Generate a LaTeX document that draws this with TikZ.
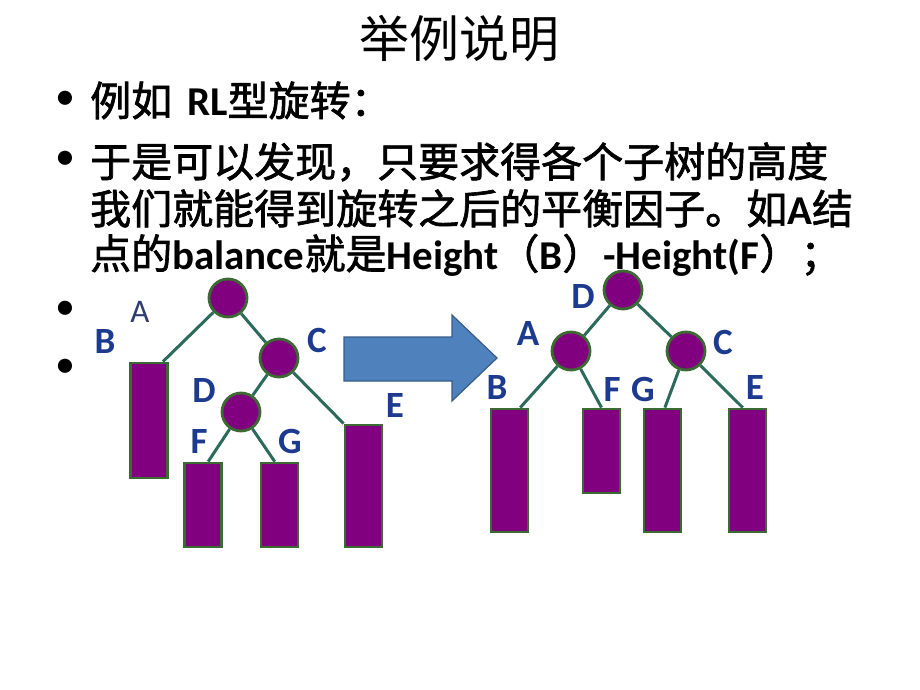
\documentclass[tikz,border=0pt]{standalone}
\usepackage{fontspec}
\setmainfont{Carlito}
\newfontfamily\cjk{Noto Sans CJK SC}
\newfontfamily\cjkb{Noto Sans CJK SC}[FakeBold=1.6]
\usetikzlibrary{calc}
\definecolor{lblblue}{HTML}{1C3A8E}
\definecolor{lblA}{HTML}{2E3D6E}
\definecolor{treepurple}{HTML}{800080}
\definecolor{treeborder}{HTML}{3B6B33}
\definecolor{edgecol}{HTML}{2C6B5C}
\definecolor{arrowfill}{HTML}{4F81BD}
\definecolor{arrowline}{HTML}{385D8A}
\begin{document}
\begin{tikzpicture}[x=1pt,y=-1pt,
  circnode/.style={circle,draw=treeborder,line width=2.8pt,fill=treepurple,minimum size=38pt,inner sep=0pt},
  subtree/.style={rectangle,draw=treeborder,line width=2.8pt,fill=treepurple,minimum width=37pt,inner sep=0pt},
  edge/.style={draw=edgecol,line width=3pt},
  lbl/.style={text=lblblue,font=\fontsize{37}{37}\selectfont\bfseries,inner sep=0pt},
  bodytext/.style={anchor=base west,inner sep=0pt,font=\fontsize{41}{47}\selectfont},
  bul/.style={inner sep=0pt,font=\fontsize{40}{40}\selectfont}
]
\useasboundingbox (0,0) rectangle (920,690);
\fill[white] (0,0) rectangle (920,690);

% title
\node[inner sep=0pt,anchor=base] (title) at (459,58) {\fontsize{50}{50}\selectfont\cjk 举例说明};

% bullets
\node[bul] (b1) at (65,100) {•};
\node[bul] (b2) at (65,160) {•};
\node[bul] (b3) at (65,310) {•};
\node[bul] (b4) at (65,368) {•};

% text lines
\node[bodytext] (t1) at (90,116) {{\cjkb 例如}\hspace{15pt}{\bfseries RL}{\cjkb 型旋转：}};
\node[bodytext] (t2) at (90,177) {\cjkb 于是可以发现，只要求得各个子树的高度};
\node[bodytext] (t3) at (90,224) {{\cjkb 我们就能得到旋转之后的平衡因子。如}{\bfseries A}{\cjkb 结}};
\node[bodytext] (t4) at (90,269) {{\cjkb 点的}{\bfseries balance}{\cjkb 就是}{\bfseries Height}{\cjkb （}{\bfseries B}{\cjkb ）}{\bfseries -Height(F}{\cjkb ）；}};

% left tree
\node[subtree,minimum height=115pt] (lB) at (149,420.5) {};
\node[subtree,minimum height=84pt] (lF) at (203,505) {};
\node[subtree,minimum height=84pt] (lG) at (279.5,505) {};
\node[subtree,minimum height=122pt] (lE) at (363.5,486) {};
\coordinate (lBt) at ($(lB.north west)!0.85!(lB.north east)$);
\coordinate (lFt) at ($(lF.north west)!0.63!(lF.north east)$);
\coordinate (lGt) at ($(lG.north west)!0.38!(lG.north east)$);
\node[circnode] (lA) at (228,298) {};
\node[circnode] (lC) at (279,358) {};
\node[circnode] (lD) at (241,412) {};
\path[edge] (lA) -- (lBt);
\path[edge] (lA) -- (lC);
\path[edge] (lC) -- (lD);
\path[edge] (lC) -- (lE.north west);
\path[edge] (lD) -- (lFt);
\path[edge] (lD) -- (lGt);
\node[lbl,font=\fontsize{33}{33}\selectfont,text=lblA] (labA) at (140,312) {A};
\node[lbl] (labB) at (105,342) {B};
\node[lbl] (labC) at (317,340) {C};
\node[lbl] (labD) at (204,390) {D};
\node[lbl] (labF) at (199,441) {F};
\node[lbl] (labG) at (290,441) {G};
\node[lbl] (labE) at (395,405) {E};

% block arrow
\filldraw[fill=arrowfill,draw=arrowline,line width=1.2pt]
  (344,337) -- (452,337) -- (452,315) -- (497,358) -- (452,401) -- (452,381) -- (344,381) -- cycle;

% right tree
\node[subtree,minimum height=123pt] (rB) at (509.5,470.5) {};
\node[subtree,minimum height=84pt] (rF) at (601.5,451) {};
\node[subtree,minimum height=123pt] (rG) at (662.5,470.5) {};
\node[subtree,minimum height=123pt] (rE) at (747.5,470.5) {};
\coordinate (rBt) at ($(rB.north west)!0.77!(rB.north east)$);
\coordinate (rGt) at ($(rG.north west)!0.56!(rG.north east)$);
\coordinate (rEt) at ($(rE.north west)!0.38!(rE.north east)$);
\node[circnode] (rD) at (623,290) {};
\node[circnode] (rA) at (571,351) {};
\node[circnode] (rC) at (686,351) {};
\path[edge] (rD) -- (rA);
\path[edge] (rD) -- (rC);
\path[edge] (rA) -- (rBt);
\path[edge] (rA) -- (rF.north);
\path[edge] (rC) -- (rGt);
\path[edge] (rC) -- (rEt);
\node[lbl] (rlabD) at (583,297) {D};
\node[lbl] (rlabA) at (528,334) {A};
\node[lbl] (rlabC) at (723,342) {C};
\node[lbl] (rlabB) at (497,387) {B};
\node[lbl] (rlabF) at (612,389) {F};
\node[lbl] (rlabG) at (643,389) {G};
\node[lbl] (rlabE) at (755,387) {E};
\end{tikzpicture}
\end{document}
